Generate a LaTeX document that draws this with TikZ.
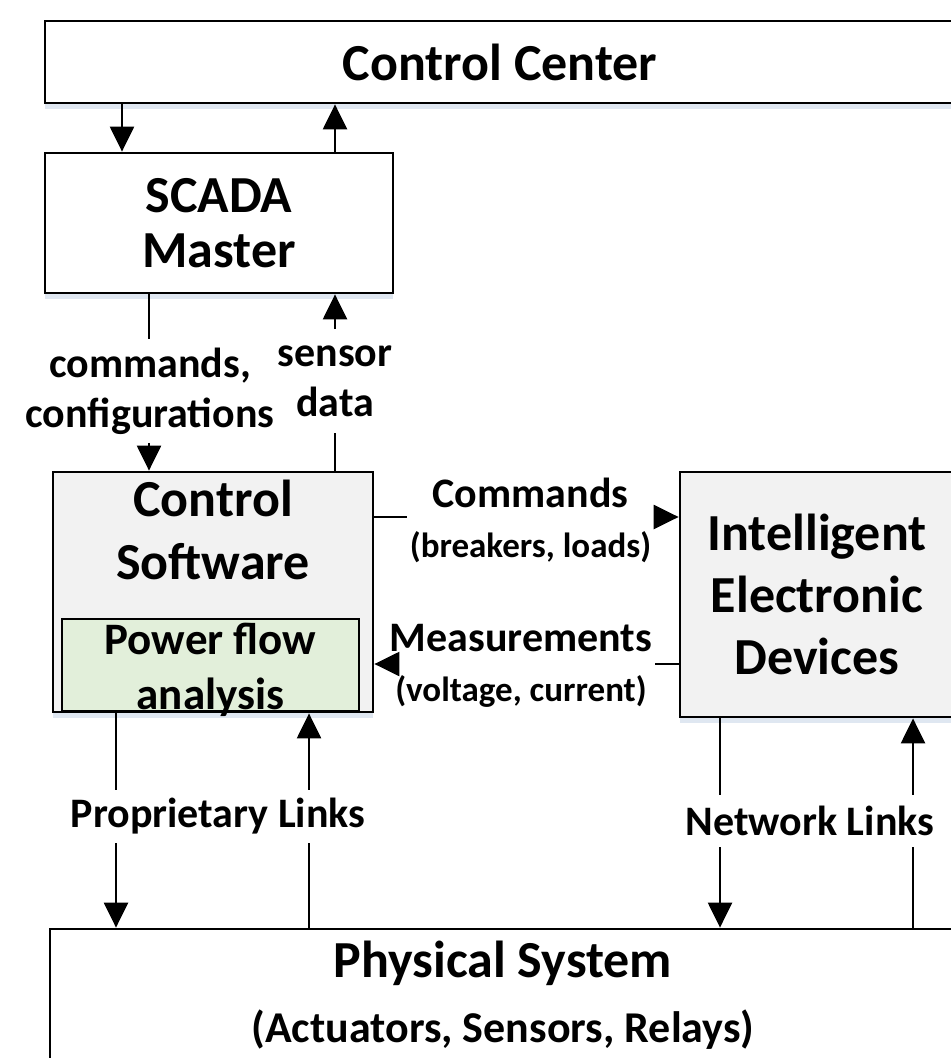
\documentclass[tikz,border=0pt]{standalone}
\usepackage{fontspec}
\setmainfont{Carlito}
\usetikzlibrary{arrows.meta,positioning,shadows}
\definecolor{softgrey}{HTML}{F2F2F2}
\definecolor{flowgreen}{HTML}{E2EFDA}
\definecolor{shadeblue}{HTML}{DCE4EF}
\tikzset{
  blockbox/.style={
    rectangle, draw=black, line width=1.4pt, fill=#1, align=center,
    inner sep=0pt, font=\fontsize{26}{31}\selectfont\bfseries
  },
  blockbox/.default=white,
  shadowed/.style={drop shadow={shadow xshift=0pt, shadow yshift=-3pt, fill=shadeblue, opacity=0.9}},
  linklabel/.style={align=center, inner xsep=1pt, inner ysep=0pt, font=\fontsize{21}{25}\selectfont\bfseries},
  linkarrow/.style={-{Triangle[length=12.5pt,width=12pt]}, line width=1.2pt},
  linkline/.style={line width=1.2pt}
}

\begin{document}
\begin{tikzpicture}[x=0.5pt, y=-0.5pt]
\clip (0,0) rectangle (951,1058);

% Boxes
\node[blockbox, shadowed, minimum width=455pt, minimum height=41pt] (cc) at (500,62) {Control Center};
\node[blockbox, shadowed, minimum width=174pt, minimum height=70pt, font=\fontsize{26}{27.5}\selectfont\bfseries] (scada) at (219,223) {SCADA\\Master};
\node[blockbox=softgrey, shadowed, minimum width=160pt, minimum height=120pt] (cs) at (213,592) {};
\node[blockbox=none, draw=none, font=\fontsize{26}{31.5}\selectfont\bfseries] (cstext) at (213,530) {Control\\Software};
\node[blockbox=flowgreen, line width=1.2pt, minimum width=148.5pt, minimum height=46pt, font=\fontsize{22.5}{27.5}\selectfont\bfseries] (pfa) at (210.5,665) {};
\node[blockbox=none, draw=none, font=\fontsize{22.5}{27.5}\selectfont\bfseries] (pfatext) at (210.5,670) {Power flow\\analysis};
\node[blockbox=softgrey, shadowed, minimum width=137pt, minimum height=122.5pt] (ied) at (817,594.5) {Intelligent\\Electronic\\Devices};
\node[blockbox, minimum width=453pt, minimum height=66pt, font=\fontsize{26}{32.5}\selectfont\bfseries] (phys) at (503,995) {Physical System\\{\fontsize{22}{32.5}\selectfont (Actuators, Sensors, Relays)}};

% Link labels
\node[linklabel, minimum height=51.5pt] (cmdlbl) at (150,391) {commands,\\configurations};
\node[linklabel, minimum height=51.5pt] (senslbl) at (335,381) {sensor\\data};
\node[linklabel, minimum width=123.5pt] (cmdslbl) at (530.5,520.5) {Commands\\{\fontsize{17.5}{27.5}\selectfont (breakers, loads)}};
\node[linklabel, minimum width=133pt] (measlbl) at (521,665.5) {Measurements\\{\fontsize{17.5}{27.5}\selectfont (voltage, current)}};
\node[linklabel, minimum height=26.5pt] (proplbl) at (218,816.5) {Proprietary Links};
\node[linklabel, minimum height=26pt] (netlbl) at (810,821) {Network Links};

% Arrow columns and rows
\coordinate (ccdown) at (122,0);
\coordinate (ccup) at (335,0);
\coordinate (cmdcol) at (149,0);
\coordinate (propdown) at (116,0);
\coordinate (propup) at (309,0);
\coordinate (netdown) at (720,0);
\coordinate (netup) at (913,0);
\coordinate (cmdrow) at (0,517);
\coordinate (measrow) at (0,664);

% Control center <-> SCADA
\draw[linkarrow] (cc.south -| ccdown) -- (scada.north -| ccdown);
\draw[linkarrow] (scada.north -| ccup) -- (cc.south -| ccup);

% SCADA <-> control software
\draw[linkline] (scada.south -| cmdcol) -- (cmdlbl.north -| cmdcol);
\draw[linkarrow] (cmdlbl.south -| cmdcol) -- (cs.north -| cmdcol);
\draw[linkline] (cs.north -| ccup) -- (senslbl.south -| ccup);
\draw[linkarrow] (senslbl.north -| ccup) -- (scada.south -| ccup);

% Control software <-> IED
\draw[linkline] (cs.east |- cmdrow) -- (cmdslbl.west |- cmdrow);
\draw[linkarrow] (cmdslbl.east |- cmdrow) -- (ied.west |- cmdrow);
\draw[linkline] (ied.west |- measrow) -- (measlbl.east |- measrow);
\draw[linkarrow] (measlbl.west |- measrow) -- (cs.east |- measrow);

% Links to the physical system
\draw[linkline] (cs.south -| propdown) -- (proplbl.north -| propdown);
\draw[linkarrow] (proplbl.south -| propdown) -- (phys.north -| propdown);
\draw[linkline] (phys.north -| propup) -- (proplbl.south -| propup);
\draw[linkarrow] (proplbl.north -| propup) -- (cs.south -| propup);
\draw[linkline] (ied.south -| netdown) -- (netlbl.north -| netdown);
\draw[linkarrow] (netlbl.south -| netdown) -- (phys.north -| netdown);
\draw[linkline] (phys.north -| netup) -- (netlbl.south -| netup);
\draw[linkarrow] (netlbl.north -| netup) -- (ied.south -| netup);
\end{tikzpicture}
\end{document}
